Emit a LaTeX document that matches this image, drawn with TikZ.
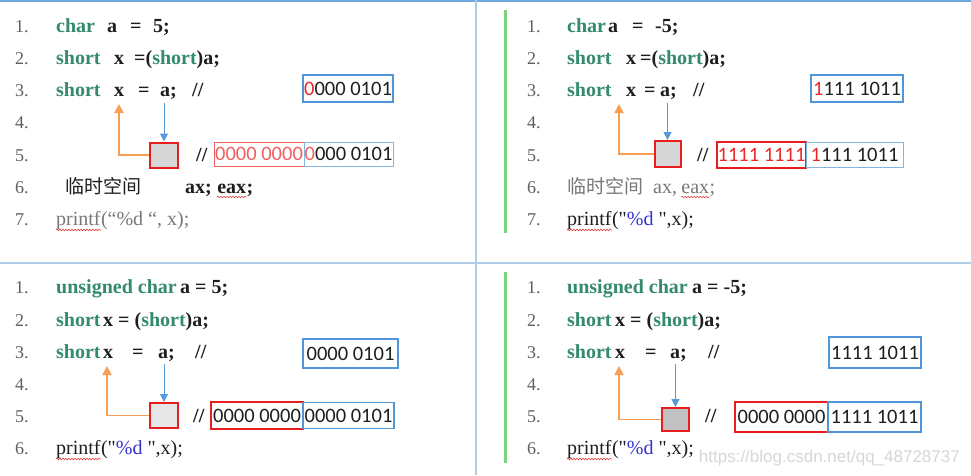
\documentclass[tikz,border=0pt]{standalone}
\usepackage{fontspec}
\setmainfont{Liberation Serif}
\newfontfamily\numf{Carlito}
\newfontfamily\cjk{Noto Sans CJK SC}
\newfontfamily\wmf{Liberation Sans}
\usetikzlibrary{arrows.meta,decorations.pathmorphing}
\definecolor{kwgreen}{RGB}{52,138,108}
\definecolor{numgray}{RGB}{95,95,95}
\definecolor{codeblk}{RGB}{30,30,30}
\definecolor{softgray}{RGB}{120,120,120}
\definecolor{boxblue}{RGB}{80,150,215}
\definecolor{boxred}{RGB}{230,30,30}
\definecolor{lightred}{RGB}{240,95,95}
\definecolor{arrorange}{RGB}{247,158,85}
\definecolor{arrblue}{RGB}{85,155,220}
\definecolor{sqfill}{RGB}{215,215,215}
\definecolor{barGreen}{RGB}{125,210,125}
\definecolor{sepblue}{RGB}{175,205,232}
\definecolor{topblue}{RGB}{111,168,220}
\definecolor{digred}{RGB}{235,40,40}
\definecolor{fmtblue}{RGB}{50,50,210}
\definecolor{wmgray}{RGB}{215,215,215}
\definecolor{spellred}{RGB}{225,60,60}
\newcommand{\dq}{\textquotedbl}
\tikzset{
  lnum/.style={anchor=base west,inner sep=0pt,text=numgray,font=\fontsize{18}{20}\selectfont},
  tok/.style={anchor=base west,inner sep=0pt,text=codeblk,font=\fontsize{20}{22}\selectfont\bfseries},
  ktok/.style={anchor=base west,inner sep=0pt,text=kwgreen,font=\fontsize{20}{22}\selectfont\bfseries},
  gtok/.style={anchor=base west,inner sep=0pt,text=softgray,font=\fontsize{20}{22}\selectfont},
  ptok/.style={anchor=base west,inner sep=0pt,text=codeblk,font=\fontsize{20}{22}\selectfont},
  binbox/.style={draw,inner sep=0pt,font=\numf\fontsize{20.5}{22}\selectfont,text=codeblk},
  sqbox/.style={draw=boxred,fill=sqfill,line width=2pt,inner sep=0pt},
  bluearr/.style={draw=arrblue,line width=1pt,-{Triangle[width=8pt,length=8pt]}},
  orangearr/.style={draw=arrorange,line width=1.8pt,-{Triangle[width=9pt,length=9pt]}},
  squig/.style={draw=spellred,line width=0.6pt,decorate,decoration={snake,amplitude=0.8pt,segment length=3pt}},
}
\begin{document}
\begin{tikzpicture}[x=1pt,y=-1pt]
\useasboundingbox (0,0) rectangle (971,475);
\fill[white] (0,0) rectangle (971,475);
% frame lines
\draw[topblue,line width=2.5pt] (0,1) -- (971,1);
\draw[sepblue,line width=1.2pt] (476,0) -- (476,475);
\draw[sepblue,line width=1.2pt] (0,263) -- (971,263);
\draw[barGreen,line width=3pt] (505,10) -- (505,233);
\draw[barGreen,line width=3pt] (505,272) -- (505,463);

% ================= top left =================
\foreach \n/\y in {1/32,2/64,3/96,4/128,5/161,6/193,7/225}
  \node[lnum] (tln\n) at (15,\y) {\n.};
\node[ktok] (tl1a) at (56,32) {char};
\node[tok] (tl1b) at (107,32) {a};
\node[tok] (tl1c) at (130,32) {=};
\node[tok] (tl1d) at (153,32) {5;};
\node[ktok] (tl2a) at (56,64) {short};
\node[tok] (tl2b) at (114,64) {x};
\node[tok] (tl2c) at (134,64) {=(\textcolor{kwgreen}{short})a;};
\node[ktok] (tl3a) at (56,96) {short};
\node[tok] (tl3b) at (114,96) {x};
\node[tok] (tl3c) at (138,96) {=};
\node[tok] (tl3d) at (160,96) {a;};
\node[tok] (tl3e) at (192,96) {//};
\node[binbox,draw=boxblue,line width=2pt,minimum width=90pt,minimum height=27pt] (tlb3) at (348,88.5) {\textcolor{digred}{0}000 0101};
\node[sqbox,minimum width=28pt,minimum height=25pt] (tlsq) at (164,155) {};
\coordinate (tlsrc) at (164,103);
\coordinate (tldst) at (119,104);
\draw[bluearr] (tlsrc) -- (tlsq.north);
\draw[orangearr] (tlsq.west) -| (tldst);
\node[tok] (tl5a) at (196,161) {//};
\node[binbox,draw=lightred,line width=1pt,minimum width=90pt,minimum height=24pt,text=lightred] (tlb5a) at (259,154) {0000 0000};
\node[binbox,draw=boxblue!70,line width=1pt,minimum width=89pt,minimum height=24pt] (tlb5b) at (348.5,154) {\textcolor{lightred}{0}000 0101};
\node[ptok,font=\cjk\fontsize{19}{21}\selectfont] (tl6a) at (65,193) {临时空间};
\node[tok] (tl6b) at (185,193) {ax;};
\node[tok] (tl6c) at ([xshift=5pt]tl6b.base east) {eax};
\node[tok] (tl6d) at (tl6c.base east) {;};
\draw[squig] ([yshift=-4pt]tl6c.base west) -- ([yshift=-4pt]tl6c.base east);
\node[gtok] (tl7a) at (56,225) {printf};
\node[gtok] (tl7b) at (tl7a.base east) {(“\%d “, x);};
\draw[squig] ([yshift=-5pt]tl7a.base west) -- ([yshift=-5pt]tl7a.base east);

% ================= top right =================
\foreach \n/\y in {1/32,2/64,3/96,4/128,5/161,6/193,7/225}
  \node[lnum] (trn\n) at (527,\y) {\n.};
\node[ktok] (tr1a) at (567,32) {char};
\node[tok] (tr1b) at (608,32) {a};
\node[tok] (tr1c) at (632,32) {=};
\node[tok] (tr1d) at (655,32) {-5;};
\node[ktok] (tr2a) at (567,64) {short};
\node[tok] (tr2b) at (626,64) {x};
\node[tok] (tr2c) at (640,64) {=(\textcolor{kwgreen}{short})a;};
\node[ktok] (tr3a) at (567,96) {short};
\node[tok] (tr3b) at (626,96) {x};
\node[tok] (tr3c) at (644,96) {=};
\node[tok] (tr3d) at (660,96) {a;};
\node[tok] (tr3e) at (693,96) {//};
\node[binbox,draw=boxblue,line width=2pt,minimum width=92pt,minimum height=27pt] (trb3) at (857,88.5) {\textcolor{digred}{1}111 1011};
\node[sqbox,minimum width=26pt,minimum height=26pt] (trsq) at (667.5,154) {};
\coordinate (trsrc) at (667.5,103);
\coordinate (trdst) at (619,104);
\draw[bluearr] (trsrc) -- (trsq.north);
\draw[orangearr] (trsq.west) -| (trdst);
\node[tok] (tr5a) at (697,161) {//};
\node[binbox,draw=boxred,line width=2pt,minimum width=89pt,minimum height=26pt,text=digred] (trb5a) at (761.5,154.5) {1111 1111};
\node[binbox,draw=boxblue!70,line width=1pt,minimum width=97pt,minimum height=25pt] (trb5b) at (854.5,154.5) {\textcolor{digred}{1}111 1011};
\node[gtok] (tr6a) at (567,193) {{\cjk\fontsize{19}{21}\selectfont 临时空间}\ \ ax,};
\node[gtok] (tr6b) at ([xshift=4pt]tr6a.base east) {eax};
\node[gtok] (tr6c) at (tr6b.base east) {;};
\draw[squig] ([yshift=-4pt]tr6b.base west) -- ([yshift=-4pt]tr6b.base east);
\node[ptok] (tr7a) at (567,225) {printf};
\node[ptok] (tr7b) at (tr7a.base east) {(\dq\textcolor{fmtblue}{\%d }\dq,x);};
\draw[squig] ([yshift=-5pt]tr7a.base west) -- ([yshift=-5pt]tr7a.base east);

% ================= bottom left =================
\foreach \n/\y in {1/293,2/326,3/358,4/390,5/422,6/454}
  \node[lnum] (bln\n) at (15,\y) {\n.};
\node[ktok] (bl1a) at (56,293) {unsigned char};
\node[tok] (bl1b) at (180,293) {a = 5;};
\node[ktok] (bl2a) at (56,326) {short};
\node[tok] (bl2b) at (103,326) {x = (\textcolor{kwgreen}{short})a;};
\node[ktok] (bl3a) at (56,358) {short};
\node[tok] (bl3b) at (103,358) {x};
\node[tok] (bl3c) at (132,358) {=};
\node[tok] (bl3d) at (158,358) {a;};
\node[tok] (bl3e) at (195,358) {//};
\node[binbox,draw=boxblue,line width=1.5pt,minimum width=95pt,minimum height=29pt] (blb3) at (350.5,353.5) {0000 0101};
\node[sqbox,fill=sqfill!60,minimum width=28pt,minimum height=25pt] (blsq) at (164,415.5) {};
\coordinate (blsrc) at (164,364);
\coordinate (bldst) at (107,366);
\draw[bluearr] (blsrc) -- (blsq.north);
\draw[orangearr] (blsq.west) -| (bldst);
\node[tok] (bl5a) at (193,422) {//};
\node[binbox,draw=boxred,line width=1.5pt,minimum width=92pt,minimum height=27pt] (blb5a) at (257,415.5) {0000 0000};
\node[binbox,draw=boxblue,line width=1.5pt,minimum width=91pt,minimum height=26pt] (blb5b) at (348.5,415.5) {0000 0101};
\node[ptok] (bl6a) at (56,454) {printf};
\node[ptok] (bl6b) at (bl6a.base east) {(\dq\textcolor{fmtblue}{\%d }\dq,x);};
\draw[squig] ([yshift=-5pt]bl6a.base west) -- ([yshift=-5pt]bl6a.base east);

% ================= bottom right =================
\foreach \n/\y in {1/293,2/326,3/358,4/390,5/422,6/454}
  \node[lnum] (brn\n) at (527,\y) {\n.};
\node[ktok] (br1a) at (567,293) {unsigned char};
\node[tok] (br1b) at (692,293) {a = -5;};
\node[ktok] (br2a) at (567,326) {short};
\node[tok] (br2b) at (615,326) {x = (\textcolor{kwgreen}{short})a;};
\node[ktok] (br3a) at (567,358) {short};
\node[tok] (br3b) at (615,358) {x};
\node[tok] (br3c) at (645,358) {=};
\node[tok] (br3d) at (670,358) {a;};
\node[tok] (br3e) at (708,358) {//};
\node[binbox,draw=boxblue,line width=1.5pt,minimum width=92pt,minimum height=31pt] (brb3) at (875,352.5) {1111 1011};
\node[sqbox,fill=sqfill!90!black,minimum width=27pt,minimum height=23pt] (brsq) at (675.5,419.5) {};
\coordinate (brsrc) at (675.5,364);
\coordinate (brdst) at (619,366);
\draw[bluearr] (brsrc) -- (brsq.north);
\draw[orangearr] (brsq.west) -| (brdst);
\node[tok] (br5a) at (705,422) {//};
\node[binbox,draw=boxred,line width=1.5pt,minimum width=93pt,minimum height=30pt] (brb5a) at (781.5,417) {0000 0000};
\node[binbox,draw=boxblue,line width=1.5pt,minimum width=93pt,minimum height=30pt] (brb5b) at (874.5,417) {1111 1011};
\node[ptok] (br6a) at (567,454) {printf};
\node[ptok] (br6b) at (br6a.base east) {(\dq\textcolor{fmtblue}{\%d }\dq,x);};
\draw[squig] ([yshift=-5pt]br6a.base west) -- ([yshift=-5pt]br6a.base east);
\node[anchor=base east,inner sep=0pt,text=wmgray,font=\wmf\fontsize{17}{19}\selectfont] (wm) at (960,462) {https://blog.csdn.net/qq\_48728737};
\end{tikzpicture}
\end{document}
